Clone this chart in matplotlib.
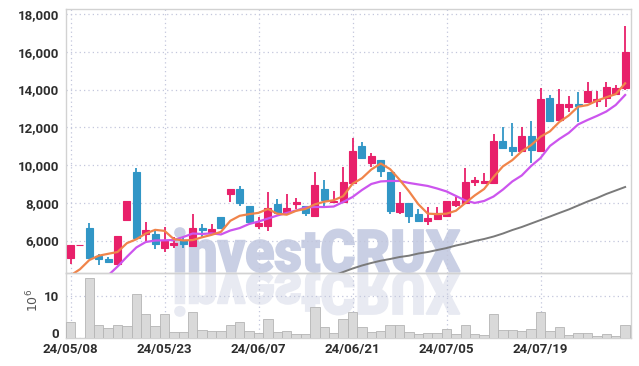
import numpy as np
import matplotlib
matplotlib.use("Agg")
import matplotlib.pyplot as plt
from matplotlib.textpath import TextPath
from matplotlib.patches import PathPatch
from matplotlib.font_manager import FontProperties
from matplotlib.transforms import Affine2D, ScaledTranslation

# ---------------- data ----------------
opens = [5088, 5745, 6647, 5163, 5035, 4770, 7100, 9615, 6345, 6345,
         5587, 5760, 6025, 5725, 6680, 6435, 7230, 8480, 8715, 7830,
         6785, 6785, 7935, 7460, 7935, 7815, 7315, 8730, 8025, 8025,
         9065, 11010, 10125, 10265, 9630, 7525, 7970, 7405, 7050, 7155,
         7315, 7880, 8000, 9085, 9065, 9070, 11275, 10955, 10745, 11540,
         10745, 13535, 12400, 13090, 13235, 13360, 13410, 13535, 13765, 14065]
highs = [5762, 5745, 6912, 5270, 5110, 6240, 8090, 9827, 6965, 6500,
         6730, 6170, 6200, 7390, 6860, 6890, 7230, 8730, 8905, 7830,
         7260, 8585, 8185, 8450, 8235, 7815, 9615, 9205, 8610, 9880,
         11415, 11205, 10620, 10265, 9630, 8555, 7970, 7655, 7790, 7760,
         8095, 8320, 9825, 9350, 9560, 11645, 12000, 12210, 12000, 12350,
         14065, 13710, 14015, 13640, 13855, 14385, 13925, 14385, 14240, 17385]
lows = [4755, 5745, 5088, 4700, 4845, 4770, 7100, 6117, 5975, 5535,
        5390, 5585, 5585, 5725, 6117, 6275, 6680, 8055, 7830, 6995,
        6625, 6500, 7460, 7460, 7650, 7300, 7315, 7705, 8025, 8025,
        9065, 10390, 9910, 9350, 7390, 7390, 6910, 7050, 6820, 7155,
        7315, 7760, 8000, 8890, 9065, 9070, 10920, 10495, 10745, 10090,
        10675, 12335, 12400, 12795, 12295, 13360, 13090, 13090, 13765, 13980]
closes = [5762, 5745, 5088, 5035, 4845, 6240, 8090, 6117, 6557, 5815,
          5975, 5885, 5800, 6645, 6557, 6610, 6680, 8730, 7970, 6995,
          6945, 7720, 7460, 7720, 8025, 7440, 8940, 8160, 8110, 9085,
          10745, 10390, 10480, 9700, 7580, 7970, 7315, 7050, 7210, 7440,
          8095, 8095, 9100, 9205, 9150, 11275, 10920, 10745, 11540, 10795,
          13500, 12335, 13235, 13235, 13145, 13925, 13500, 14135, 14080, 16005]
volumes = [3.6, 0.0, 14.1, 3.1, 2.2, 2.9, 2.7, 10.4, 5.7, 2.7,
           5.5, 1.3, 1.3, 6.2, 1.7, 1.5, 1.5, 3.1, 3.8, 1.5,
           1.0, 4.5, 1.3, 1.5, 0.8, 0.8, 7.3, 2.4, 1.0, 4.5,
           6.2, 2.4, 1.3, 1.5, 3.1, 2.9, 1.3, 0.8, 1.0, 1.0,
           2.0, 0.8, 2.9, 0.8, 0.5, 5.5, 1.7, 1.7, 1.5, 2.0,
           6.2, 1.5, 2.4, 0.5, 1.0, 1.0, 0.3, 0.8, 0.3, 2.9]
ma5 = [4150, 4475, 4965, 5195, 5295, 5391, 5860, 6065, 6370, 6564,
       6511, 6070, 6006, 6024, 6172, 6299, 6458, 7044, 7309, 7397,
       7464, 7672, 7418, 7368, 7574, 7673, 7917, 8057, 8135, 8347,
       9008, 9298, 9762, 10080, 9779, 9224, 8609, 7923, 7425, 7397,
       7422, 7578, 7988, 8387, 8729, 9365, 9930, 10259, 10726, 11055,
       11500, 11783, 12281, 12620, 13090, 13175, 13408, 13588, 13757, 14329]
nan = np.nan
ma20 = [nan, nan, nan, nan, 4150, 4620, 5140, 5630, 5920, 6000,
        6010, 6025, 6185, 6370, 6345, 6380, 6320, 6530, 6660, 6875,
        7005, 7165, 7325, 7460, 7590, 7750, 7775, 7775, 7800, 8040,
        8305, 8675, 8995, 9130, 9155, 9155, 9050, 8970, 8890, 8755,
        8600, 8360, 8120, 7990, 8095, 8330, 8700, 9130, 9445, 9950,
        10370, 11010, 11380, 11700, 12150, 12385, 12600, 12835, 13180, 13710]
ma60 = [nan] * 28 + [4150, 4330,
        4515, 4675, 4810, 4930, 5020, 5125, 5195, 5310, 5390, 5495,
        5600, 5735, 5840, 5975, 6080, 6210, 6370, 6555, 6715, 6900,
        7085, 7270, 7460, 7645, 7855, 8065, 8250, 8465, 8650, 8835]
date_labels = ["24/05/08", "24/05/23", "24/06/07", "24/06/21", "24/07/05", "24/07/19"]
price_ticks = [6000, 8000, 10000, 12000, 14000, 16000, 18000]
vol_ticks = [0, 10]

# ---------------- style ----------------
W, H = 639, 366
DPI = 100
RED = "#e8206a"
BLUE = "#3196c6"
GRID = "#c3c7dc"
SPINE = "#d2d2d2"
TXT = "#2e2e2e"
FONT = "Roboto"

fig = plt.figure(figsize=(W / DPI, H / DPI), dpi=DPI)
fig.patch.set_facecolor("white")

L, R = 66 / W, 630.5 / W
ax = fig.add_axes([L, 1 - 272.5 / H, R - L, (272.5 - 9) / H])
axv = fig.add_axes([L, 1 - 337.5 / H, R - L, (337.5 - 272.5) / H], sharex=ax)
for a in (ax, axv):
    a.set_facecolor("none")
    for s in a.spines.values():
        s.set_color(SPINE)
        s.set_linewidth(1.0)
    a.grid(True, linestyle=(0, (1, 2.5)), color=GRID, linewidth=0.9)
    a.set_axisbelow(True)
    a.tick_params(length=0, colors=TXT)

n = len(closes)
x = np.arange(n)
o = np.array(opens, float); c = np.array(closes, float)
hi = np.array(highs, float); lo = np.array(lows, float)
up = c >= o
cols = np.where(up, RED, BLUE)

ax.vlines(x, lo, hi, colors=cols, linewidth=1.3, zorder=3)
ax.bar(x, np.abs(c - o), bottom=np.minimum(o, c), width=0.74, color=cols,
       edgecolor=cols, linewidth=0.8, zorder=4)

ax.plot(x, ma60, color="#7a7a7a", linewidth=1.4, zorder=5)
ax.plot(x, ma20, color="#cc55ee", linewidth=1.6, zorder=5)
ax.plot(x, ma5, color="#f0844a", linewidth=1.6, zorder=6)

ax.set_xlim(-0.48, 59.57)
ax.set_ylim(4305, 18265)
ax.set_yticks(price_ticks)
ax.set_yticklabels([f"{v:,}" for v in price_ticks], fontsize=9.5,
                   fontfamily=FONT, fontweight="bold", color=TXT)
ax.tick_params(axis="y", pad=5)
ax.tick_params(axis="x", labelbottom=False)
ax.set_xticks(np.arange(0, n, 10))

axv.bar(x, volumes, width=1.0, color="#d9d9d9", edgecolor="#b5b5b5",
        linewidth=0.6, zorder=3)
axv.set_ylim(0, 15.5)
axv.set_yticks(vol_ticks)
axv.set_yticklabels([str(v) for v in vol_ticks], fontsize=9.5,
                    fontfamily=FONT, fontweight="bold", color=TXT)
axv.tick_params(axis="y", pad=5)
axv.set_xticks(np.arange(0, n, 10))
axv.set_xticklabels(date_labels, fontsize=9.5, fontfamily=FONT,
                    fontweight="bold", color=TXT)
axv.tick_params(axis="x", pad=4)
# nudge the volume "0" label up a little so it clears the first date label
lbl0 = axv.get_yticklabels()[0]
lbl0.set_transform(lbl0.get_transform() + ScaledTranslation(0, 3 / 72, fig.dpi_scale_trans))
fig.text(33 / W, 1 - 300 / H, r"$10^6$", rotation=90, ha="center",
         va="center", fontsize=9, color="#555555")

# ---------------- watermark ----------------
fp = FontProperties(family=FONT, weight=900)
tp = TextPath((0, 0), "investCRUX", size=100, prop=fp)
bb = tp.get_extents()
x0, x1 = 175, 460
ytop, ybase = 228, 272
sx = (x1 - x0) / bb.width
sy = (ybase - ytop) / bb.height
base_disp = H - ybase
t_main = Affine2D().translate(-bb.x0, -bb.y0).scale(sx, sy).translate(x0, base_disp)
t_refl = Affine2D().translate(-bb.x0, -bb.y0).scale(sx, -sy).translate(x0, base_disp)
pm = PathPatch(tp, transform=t_main, facecolor="#c9cfe4", edgecolor="#c9cfe4",
               linewidth=1.2, zorder=-1)
pr = PathPatch(tp, transform=t_refl, facecolor="#e8eaf2", edgecolor="#e8eaf2",
               linewidth=1.2, zorder=-1)
fig.add_artist(pr)
fig.add_artist(pm)

fig.savefig("out.png", dpi=DPI)
